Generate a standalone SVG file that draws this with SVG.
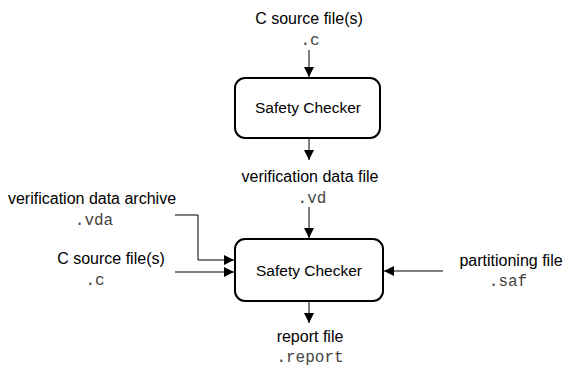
<svg xmlns="http://www.w3.org/2000/svg" width="565" height="367" viewBox="0 0 565 367">
<style>
.lbl{font-family:"Liberation Sans",Arial,sans-serif;font-size:16px;fill:#000;text-anchor:middle}
.box-t{font-family:"Liberation Sans",Arial,sans-serif;font-size:15.5px;fill:#000;text-anchor:middle}
.ext{font-family:"Liberation Mono","Courier New",monospace;font-size:16px;fill:#444;text-anchor:middle}
.box{fill:#fff;stroke:#000;stroke-width:2}
.con{fill:none;stroke:#000;stroke-width:1}
</style>
<defs>
<marker id="ah" viewBox="0 0 10 10" refX="10" refY="5" markerWidth="10" markerHeight="10" markerUnits="userSpaceOnUse" orient="auto">
<path d="M0,0 L10,5 L0,10 z" fill="#000"/>
</marker>
</defs>
<rect width="565" height="367" fill="#fff"/>
<g id="in-c-top">
<text class="lbl" x="309" y="24">C source file(s)</text>
<text class="ext" x="310" y="45">.c</text>
</g>
<g id="checker1">
<rect class="box" x="235" y="78" width="145" height="60" rx="10"/>
<text class="box-t" x="308" y="113">Safety Checker</text>
</g>
<g id="vd">
<text class="lbl" x="310" y="182">verification data file</text>
<text class="ext" x="312" y="203">.vd</text>
</g>
<g id="vda">
<text class="lbl" x="92" y="204">verification data archive</text>
<text class="ext" x="94" y="225">.vda</text>
</g>
<g id="in-c-left">
<text class="lbl" x="111" y="264">C source file(s)</text>
<text class="ext" x="95" y="285">.c</text>
</g>
<g id="saf">
<text class="lbl" x="511" y="266">partitioning file</text>
<text class="ext" x="508" y="286">.saf</text>
</g>
<g id="checker2">
<rect class="box" x="235" y="239" width="148" height="62" rx="10"/>
<text class="box-t" x="309" y="276">Safety Checker</text>
</g>
<g id="report">
<text class="lbl" x="310" y="342">report file</text>
<text class="ext" x="310" y="362">.report</text>
</g>
<g id="connectors">
<path class="con" d="M309,50 V77" marker-end="url(#ah)"/>
<path class="con" d="M309,139 V160" marker-end="url(#ah)"/>
<path class="con" d="M309,207 V238" marker-end="url(#ah)"/>
<path class="con" d="M175,215 H198 V260 H234" marker-end="url(#ah)"/>
<path class="con" d="M175,272 H234" marker-end="url(#ah)"/>
<path class="con" d="M443,271 H384" marker-end="url(#ah)"/>
<path class="con" d="M309,302 V323" marker-end="url(#ah)"/>
</g>
</svg>
